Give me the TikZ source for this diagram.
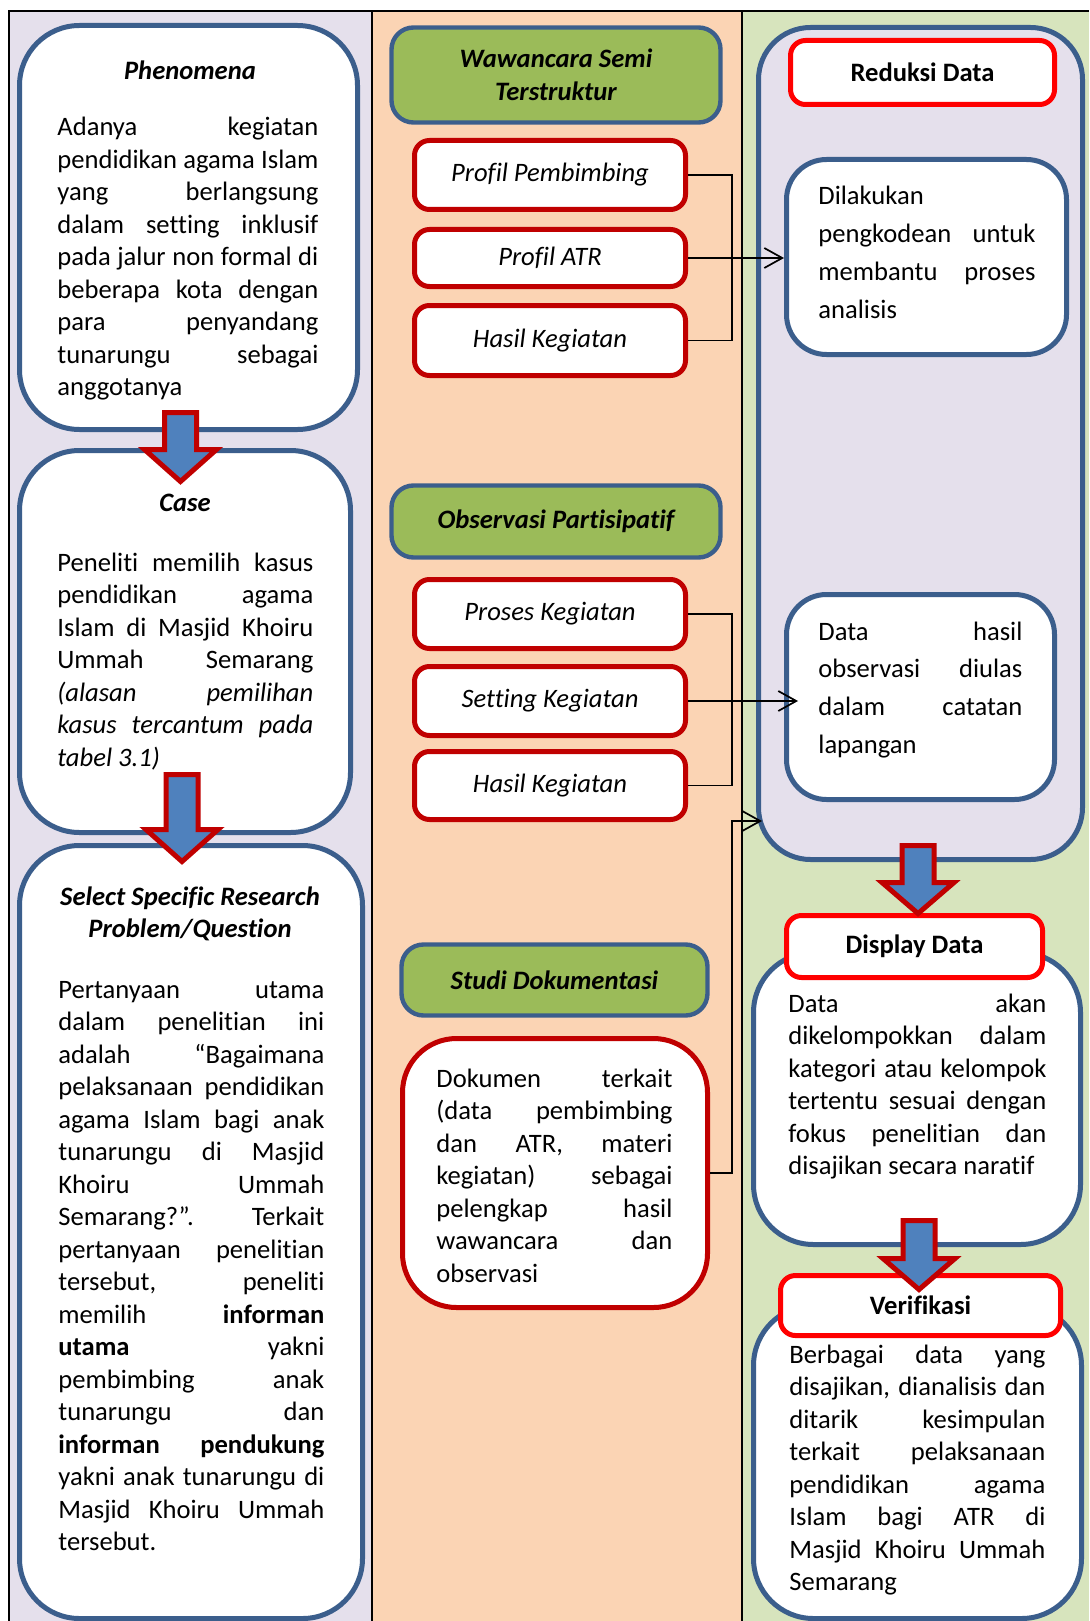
\documentclass[tikz,border=0pt]{standalone}
\usepackage{fontspec}
\setmainfont{Carlito}[Ligatures=NoCommon]
\usetikzlibrary{arrows.meta}
\definecolor{lavbg}{HTML}{E5E0EC}
\definecolor{peachbg}{HTML}{FBD4B4}
\definecolor{olivebg}{HTML}{D7E4BD}
\definecolor{shapeblue}{HTML}{3B5E8C}
\definecolor{olivefill}{HTML}{9BBB59}
\definecolor{darkred}{HTML}{C00000}
\definecolor{arrowblue}{HTML}{4F81BD}
\newcommand{\boxfont}{\fontsize{13.3pt}{16.25pt}\selectfont}
\newcommand{\loosefont}{\fontsize{13.3pt}{18.85pt}\selectfont}
\tolerance=10000
\hbadness=10000
\hyphenpenalty=10000
\exhyphenpenalty=10000
\tikzset{
  every node/.style={font=\boxfont},
  frame/.style={line width=1pt, black},
  bigbox/.style={draw=shapeblue, line width=2.5pt, fill=white, rounded corners=30pt, inner sep=0pt},
  innerbox/.style={draw=shapeblue, line width=2.5pt, fill=white, rounded corners=20pt, inner sep=0pt},
  method/.style={draw=shapeblue, line width=2.2pt, fill=olivefill, rounded corners=11pt,
    font=\boxfont\bfseries\itshape, align=center, inner sep=0pt},
  itembox/.style={draw=darkred, line width=2.5pt, fill=white, rounded corners=7.5pt,
    minimum width=135.5pt, font=\boxfont\itshape, inner sep=0pt},
  redttl/.style={draw=red, line width=2.5pt, fill=white, rounded corners=7.5pt,
    font=\boxfont\bfseries, inner sep=0pt},
  ttl/.style={font=\boxfont\bfseries\itshape, align=center, inner sep=0pt},
  bodytext/.style={anchor=base west, align=justify, inner sep=0pt, text width=#1},
  link/.style={line width=0.85pt, black},
  linkarrow/.style={link, -{Straight Barb[length=9pt,width=10pt]}},
  arrowshape/.style={fill=arrowblue, draw=darkred, line width=2.5pt, line join=miter},
  pics/blockarrow/.style 2 args={code={
    \draw[arrowshape] (-16,0) -- (-16,#1) -- (-36,#1) -- (0,#2) -- (36,#1) -- (16,#1) -- (16,0) -- cycle;
  }},
}

\begin{document}
\begin{tikzpicture}[x=0.5pt, y=-0.5pt]
\useasboundingbox (0,0) rectangle (1089,1621);
% columns
\fill[lavbg] (9,11) rectangle (372,1621);
\fill[peachbg] (372,11) rectangle (742,1621);
\fill[olivebg] (742,11) rectangle (1089,1621);
\draw[frame] (9,1621) -- (9,11) -- (1089,11);
\draw[frame] (372,11) -- (372,1621);
\draw[frame] (742,11) -- (742,1621);

% left column
\node[bigbox, minimum width=169pt, minimum height=202pt] (phen) at (188.5,227.5) {};
\node[ttl] (phenTitle) at (190,70) {Phenomena};
\node[bodytext=130.5pt] (phenText) at (57,136) {Adanya kegiatan\linebreak
  pendidikan agama Islam\linebreak yang berlangsung\linebreak dalam setting inklusif\linebreak
  pada jalur non formal di\linebreak beberapa kota dengan\linebreak para penyandang\linebreak
  tunarungu sebagai\linebreak anggotanya};

\node[bigbox, minimum width=165.5pt, minimum height=191pt] (case) at (185,641.5) {};
\node[ttl] (caseTitle) at (185,503) {Case};
\node[bodytext=128pt] (caseText) at (57,571) {Peneliti memilih kasus\linebreak
  pendidikan agama\linebreak Islam di Masjid Khoiru\linebreak Ummah Semarang\linebreak
  \textit{(alasan pemilihan\linebreak kasus tercantum pada\linebreak tabel 3.1)}};

\node[bigbox, minimum width=171.5pt, minimum height=386.5pt] (sel) at (191,1232) {};
\node[ttl] (selTitle) at (190,914) {Select Specific Research\\Problem/Question};
\node[bodytext=133pt] (selText) at (58,998) {Pertanyaan utama\linebreak
  dalam penelitian ini\linebreak adalah “Bagaimana\linebreak pelaksanaan pendidikan\linebreak
  agama Islam bagi anak\linebreak tunarungu di Masjid\linebreak Khoiru Ummah\linebreak
  Semarang?”. Terkait\linebreak pertanyaan penelitian\linebreak tersebut, peneliti\linebreak
  memilih \textbf{informan}\linebreak \textbf{utama} yakni\linebreak pembimbing anak\linebreak
  tunarungu dan\linebreak \textbf{informan pendukung}\linebreak yakni anak tunarungu di\linebreak
  Masjid Khoiru Ummah\linebreak tersebut.};

% middle column
\node[method, minimum width=164.5pt, minimum height=47.5pt] (waw) at (556,75) {Wawancara Semi\\Terstruktur};
\node[itembox, minimum height=34.5pt] (pp) at (550,175) {Profil Pembimbing};
\node[itembox, minimum height=28.5pt] (pa) at (550,258) {Profil ATR};
\node[itembox, minimum height=35pt] (hk1) at (550,340.5) {Hasil Kegiatan};

\node[method, minimum width=164.5pt, minimum height=36pt] (obs) at (556,521.5) {Observasi Partisipatif};
\node[itembox, minimum height=34.5pt] (pk) at (550,614) {Proses Kegiatan};
\node[itembox, minimum height=34.5pt] (sk) at (550,701) {Setting Kegiatan};
\node[itembox, minimum height=34pt] (hk2) at (550,785.5) {Hasil Kegiatan};

\node[method, minimum width=153pt, minimum height=35.5pt] (studi) at (554.5,980) {Studi Dokumentasi};
\node[draw=darkred, line width=2.5pt, fill=white, rounded corners=27pt, inner sep=0pt,
  minimum width=152.5pt, minimum height=134.5pt] (dok) at (555,1173) {};
\node[bodytext=118pt] (dokText) at (436,1087) {Dokumen terkait\linebreak
  (data pembimbing\linebreak dan ATR, materi\linebreak kegiatan) sebagai\linebreak
  pelengkap hasil\linebreak wawancara dan\linebreak observasi};

% right column
\node[bigbox, fill=lavbg, rounded corners=26pt, minimum width=162pt, minimum height=416pt] (redOut) at (920.5,443.5) {};
\node[redttl, minimum width=132pt, minimum height=32pt] (redTitle) at (922.5,72.5) {Reduksi Data};
\node[innerbox, minimum width=140pt, minimum height=97.5pt] (in1) at (926.5,257) {};
\node[bodytext=108.5pt, font=\loosefont] (in1Text) at (818,205) {Dilakukan\linebreak
  pengkodean untuk\linebreak membantu proses\linebreak analisis};
\node[innerbox, minimum width=134pt, minimum height=102.5pt] (in2) at (920.5,697) {};
\node[bodytext=102pt, font=\loosefont] (in2Text) at (818,640) {Data hasil\linebreak
  observasi diulas\linebreak dalam catatan\linebreak lapangan};

\node[bigbox, minimum width=163.5pt, minimum height=146pt] (disp) at (917,1098.5) {};
\node[redttl, minimum width=128pt, minimum height=31pt] (dispTitle) at (914.5,946.5) {Display Data};
\node[bodytext=129pt] (dispText) at (788,1012) {Data akan\linebreak
  dikelompokkan dalam\linebreak kategori atau kelompok\linebreak tertentu sesuai dengan\linebreak
  fokus penelitian dan\linebreak disajikan secara naratif};

\node[bigbox, minimum width=164pt, minimum height=156.5pt] (ver) at (917.5,1462) {};
\node[redttl, minimum width=140pt, minimum height=30pt] (verTitle) at (920.5,1305.5) {Verifikasi};
\node[bodytext=128pt] (verText) at (789,1363) {Berbagai data yang\linebreak
  disajikan, dianalisis dan\linebreak ditarik kesimpulan\linebreak terkait pelaksanaan\linebreak
  pendidikan agama\linebreak Islam bagi ATR di\linebreak Masjid Khoiru Ummah\linebreak Semarang};

% connectors
\coordinate (wawJ) at (732,258);
\draw[link] (pp.east) -| (wawJ) |- (hk1.east);
\draw[linkarrow] (pa.east) -- (pa.east -| in1.west);
\coordinate (obsJ) at (732,701);
\draw[link] (pk.east) -| (obsJ) |- (hk2.east);
\draw[linkarrow, shorten >=-7pt] (sk.east) -- (sk.east -| in2.west);
\coordinate (dokJ) at (732,821);
\draw[linkarrow, shorten >=-3pt] (dok.east) -| (dokJ) -- (dokJ -| redOut.west);

% block arrows
\pic at (180.5,412.5) {blockarrow={37}{69}};
\pic at (182,774.5) {blockarrow={55}{87}};
\pic at (918,845.5) {blockarrow={37}{68}};
\pic at (919,1220.5) {blockarrow={38}{69}};
\end{tikzpicture}
\end{document}
